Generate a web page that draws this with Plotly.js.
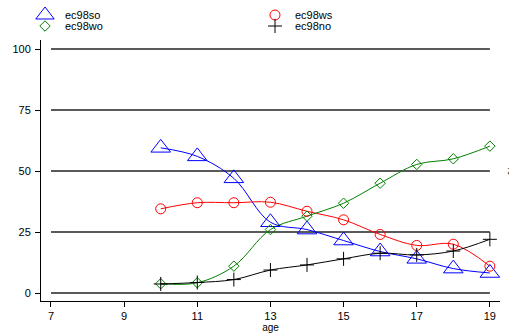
<!DOCTYPE html>
<html><head><meta charset="utf-8">
<script src="https://cdn.plot.ly/plotly-3.0.1.min.js"></script>
<style>html,body{margin:0;padding:0;background:#fff}#c{width:509px;height:333px}</style>
</head><body><div id="c"></div>
<script>
const ages = [10, 11, 12, 13, 14, 15, 16, 17, 18, 19];
const ec98so = [59.5, 56, 47, 29, 26, 21.5, 17, 14, 10, 8.2];
const ec98ws = [34.5, 37, 37, 37.2, 33.5, 30, 24, 19.5, 20, 11];
const ec98wo = [3.8, 4.2, 11, 26, 31.5, 36.8, 45, 52.7, 55, 60.2];
const ec98no = [3.7, 4.3, 5.5, 9.4, 11.5, 14, 16.3, 15.6, 17.2, 22];
const xTicks = [7, 9, 11, 13, 15, 17, 19];
const yTicks = [0, 25, 50, 75, 100];

const font = "Liberation Sans, Arial, sans-serif";
function lineTr(name, y, color) {
  return {x: ages, y: y, name: name, type: 'scatter', mode: 'lines', showlegend: false,
    line: {color: color, width: 1, shape: 'spline', smoothing: 1}, cliponaxis: false};
}
function markTr(name, y, color, symbol, size, legend) {
  return {x: ages, y: y, name: name, type: 'scatter', mode: 'markers',
    marker: {symbol: symbol, size: size, color: color, line: {color: color, width: 1}},
    legend: legend, cliponaxis: false};
}
const data = [
  lineTr('ec98so', ec98so, '#0000ff'),
  lineTr('ec98ws', ec98ws, '#ff0000'),
  lineTr('ec98wo', ec98wo, '#008000'),
  lineTr('ec98no', ec98no, '#000000'),
  markTr('ec98so', ec98so, '#0000ff', 'triangle-up-open', 17, 'legend'),
  markTr('ec98ws', ec98ws, '#ff0000', 'circle-open', 10, 'legend2'),
  markTr('ec98wo', ec98wo, '#008000', 'diamond-open', 8, 'legend3'),
  markTr('ec98no', ec98no, '#000000', 'cross-thin-open', 10, 'legend4')
];
const shapes = yTicks.map(v => ({type: 'line', xref: 'x', yref: 'y', x0: 7, x1: 19, y0: v, y1: v,
  line: {color: '#222', width: 1.5}, layer: 'below'}));
const legBase = {orientation: 'v', xref: 'container', yref: 'container', xanchor: 'left', yanchor: 'middle',
  bgcolor: 'rgba(0,0,0,0)', borderwidth: 0,
  itemwidth: 30, font: {family: font, size: 11, color: '#000'}};
function leg(px, py) { return Object.assign({}, legBase, {x: px/509, y: 1 - py/333}); }
const layout = {
  width: 509, height: 333,
  margin: {l: 41, r: 9, t: 40, b: 32, pad: 0, autoexpand: false},
  paper_bgcolor: '#fff', plot_bgcolor: '#fff',
  font: {family: font, size: 11, color: '#000'},
  showlegend: true,
  legend: leg(25, 15),
  legend2: leg(255, 15),
  legend3: leg(25, 26),
  legend4: leg(255, 26),
  xaxis: {range: [6.727, 19.277], tickvals: xTicks, ticktext: xTicks.map(String),
    showgrid: false, zeroline: false, showline: true, linecolor: '#000', linewidth: 1,
    ticks: 'outside', ticklen: 5, tickcolor: '#000', tickfont: {family: font, size: 11},
    ticklabelstandoff: 0, automargin: false,
    title: {text: 'age', font: {family: font, size: 10}, standoff: 1}},
  yaxis: {range: [-3.28, 103.7], tickvals: yTicks, ticktext: yTicks.map(String),
    showgrid: false, zeroline: false, showline: true, linecolor: '#000', linewidth: 1,
    ticks: 'outside', ticklen: 5, tickcolor: '#000', tickfont: {family: font, size: 11},
    ticklabelstandoff: 2, automargin: false},
  shapes: shapes,
  annotations: [{text: '%', xref: 'paper', yref: 'paper', x: 1, y: 0.5, xshift: 4, showarrow: false,
    textangle: 90, font: {family: font, size: 10, color: '#000'}, xanchor: 'left'}]
};
Plotly.newPlot('c', data, layout, {staticPlot: true});
</script></body></html>
